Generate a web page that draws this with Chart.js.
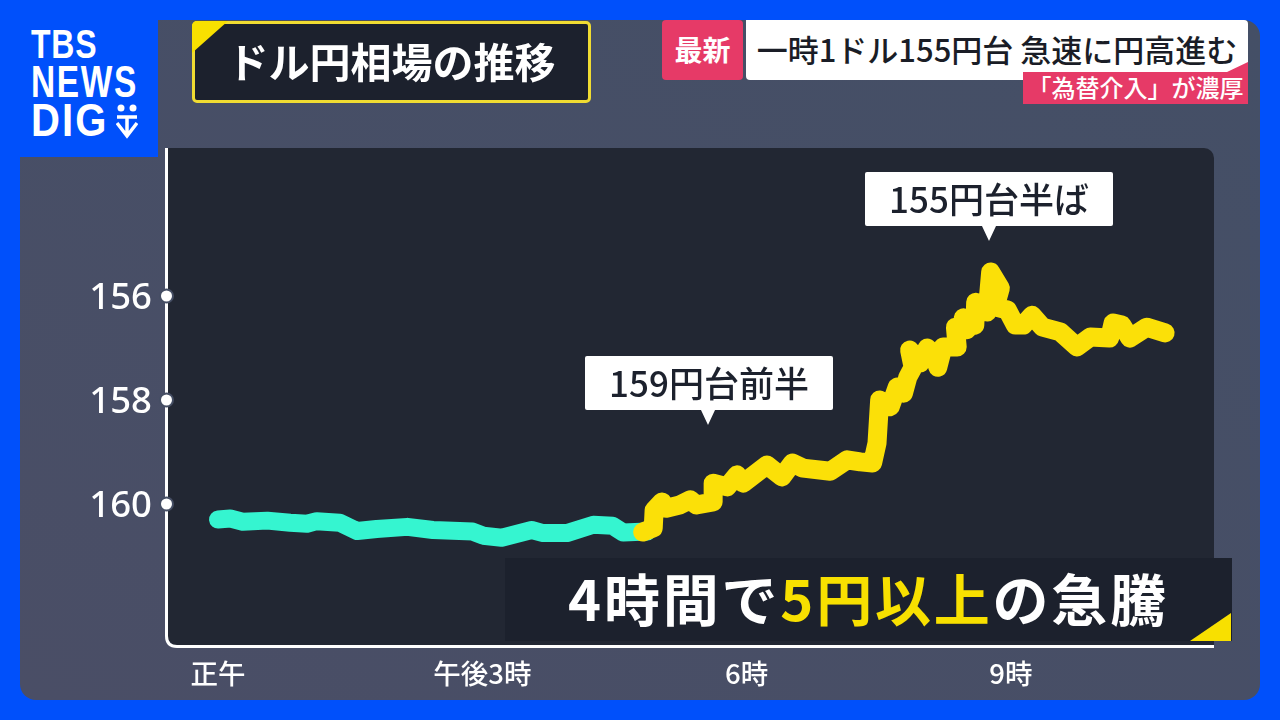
<!DOCTYPE html>
<html lang="ja">
<head>
<meta charset="utf-8">
<title>ドル円相場の推移</title>
<script src="https://cdn.jsdelivr.net/npm/chart.js@4"></script>
<style>
  html, body { margin: 0; padding: 0; width: 1280px; height: 720px; overflow: hidden; background: #0050fb; }
  body { position: relative; font-family: "Noto Sans CJK JP", "Noto Sans", sans-serif; }
  #panel { position: absolute; left: 20px; top: 20px; width: 1240px; height: 680px; border-radius: 16px; background: linear-gradient(to top right, #4a4e66, #444f66); }
  #wrap { position: absolute; left: 0; top: 0; width: 1280px; height: 720px; }
  .abs { position: absolute; white-space: nowrap; }
  #logoBox { left: 0; top: 0; width: 158px; height: 157px; background: #0050fb; }
  .logo { font-family: "Liberation Sans", sans-serif; font-weight: 700; color: #fff; line-height: 1; transform-origin: left top; }
  #titleBox { left: 192px; top: 21px; width: 393px; height: 76px; border: 3px solid #f0dc32; border-radius: 5px; background: #1c212d; }
  #titleCorner { left: 192px; top: 21px; width: 36px; height: 32px; background: #f8e000; clip-path: polygon(0 0, 100% 0, 0 100%); border-top-left-radius: 5px; }
  #titleText { left: 192px; top: 21px; width: 399px; height: 82px; line-height: 78px; text-align: center; color: #fff; font-size: 41px; font-weight: 700; }
  #newBadge { left: 662px; top: 20px; width: 81px; height: 60px; line-height: 58px; text-align: center; background: #e63a67; border-radius: 4px; color: #fff; font-size: 28px; font-weight: 700; }
  #headline { left: 746px; top: 20px; width: 502px; height: 60px; line-height: 58px; text-align: center; background: #fff; border-radius: 0 4px 4px 4px; color: #1a1d26; font-size: 31px; font-weight: 500; }
  #subhead { left: 1023px; top: 62px; width: 225px; height: 42px; background: #e63a67; clip-path: polygon(0 10px, 204px 10px, 100% 0, 100% 100%, 0 100%); color: #fff; font-size: 24px; font-weight: 500; line-height: 50px; text-align: center; }
  .callout { background: #fff; width: 248px; height: 54px; line-height: 52px; text-align: center; color: #1c212d; font-size: 35px; font-weight: 500; border-radius: 2px; }
  .tail { width: 0; height: 0; border-left: 7px solid transparent; border-right: 7px solid transparent; border-top: 15px solid #fff; }
  #captionBox { left: 505px; top: 558px; width: 727px; height: 83px; background: #1c212d; }
  #captionCorner { left: 1190px; top: 613px; width: 41px; height: 28px; background: #f8e000; clip-path: polygon(100% 0, 100% 100%, 0 100%); }
  #captionText { left: 505px; top: 558px; width: 727px; height: 84px; line-height: 78px; text-align: center; color: #fff; font-size: 56px; letter-spacing: 2.8px; font-weight: 700; }
  #captionText b { color: #f8e000; font-weight: 700; }
</style>
</head>
<body>
<div id="panel"></div>
<div id="wrap"><canvas id="rateChart" width="1280" height="720"></canvas></div>

<div class="abs" id="logoBox"></div>
<div class="abs logo" style="left:31px;top:24px;font-size:40px;letter-spacing:1px;transform:scaleX(.8)">TBS</div>
<div class="abs logo" style="left:31px;top:60px;font-size:44px;letter-spacing:2.2px;transform:scaleX(.76)">NEWS</div>
<div class="abs logo" style="left:31px;top:97px;font-size:46px;letter-spacing:2.5px;transform:scaleX(.87)">DIG</div>
<svg class="abs" style="left:116px;top:103px" width="22" height="36" viewBox="0 0 22 36">
  <circle cx="5" cy="5" r="3.5" fill="#fff"/><circle cx="17" cy="5" r="3.5" fill="#fff"/>
  <path d="M1 14h20M1 20l10 13 10-13M11 14v18" stroke="#fff" stroke-width="3.5" fill="none"/>
</svg>

<div class="abs" id="titleBox"></div>
<div class="abs" id="titleCorner"></div>
<div class="abs" id="titleText">ドル円相場の推移</div>

<div class="abs" id="newBadge">最新</div>
<div class="abs" id="headline">一時1ドル155円台 急速に円高進む</div>
<div class="abs" id="subhead">「為替介入」が濃厚</div>

<div class="abs callout" style="left:585px;top:356px">159円台前半</div>
<div class="abs tail" style="left:701px;top:410px"></div>
<div class="abs callout" style="left:865px;top:172px">155円台半ば</div>
<div class="abs tail" style="left:982px;top:226px"></div>

<div class="abs" id="captionBox"></div>
<div class="abs" id="captionCorner"></div>
<div class="abs" id="captionText">4時間で<b>5円以上</b>の急騰</div>

<script>
// 時刻は正午からの経過時間
const tealHours = [0, 0.14, 0.28, 0.56, 0.82, 1.01, 1.12, 1.38, 1.58, 1.80, 2.15, 2.44, 2.89, 3.01, 3.22, 3.56, 3.69, 3.96, 4.26, 4.48, 4.60, 4.87];
const tealRates = [160.30, 160.28, 160.34, 160.32, 160.36, 160.38, 160.33, 160.36, 160.52, 160.48, 160.44, 160.50, 160.53, 160.61, 160.65, 160.50, 160.56, 160.56, 160.40, 160.42, 160.55, 160.53];

const yellowHours = [4.82, 4.94, 4.95, 5.04, 5.09, 5.24, 5.36, 5.43, 5.62, 5.62, 5.78, 5.89, 5.96, 6.23, 6.40, 6.52, 6.64, 6.95, 7.14, 7.29, 7.43, 7.48, 7.51, 7.63, 7.71, 7.78, 7.83, 7.89, 7.85, 7.97, 8.05, 8.14, 8.17, 8.23, 8.39, 8.37, 8.50, 8.46, 8.59, 8.60, 8.73, 8.77, 8.88, 8.82, 8.96, 9.05, 9.14, 9.24, 9.36, 9.56, 9.75, 9.90, 10.12, 10.16, 10.26, 10.35, 10.54, 10.75];
const yellowRates = [160.54, 160.46, 160.12, 159.96, 160.08, 160.02, 159.92, 160.02, 159.96, 159.60, 159.67, 159.44, 159.60, 159.25, 159.48, 159.21, 159.31, 159.37, 159.15, 159.19, 159.21, 158.83, 158.00, 158.13, 157.75, 157.87, 157.56, 157.37, 157.04, 157.29, 157.00, 157.17, 157.37, 156.98, 156.98, 156.60, 156.65, 156.42, 156.56, 156.12, 156.31, 155.54, 155.85, 156.21, 156.27, 156.56, 156.56, 156.37, 156.60, 156.69, 156.98, 156.79, 156.81, 156.52, 156.56, 156.81, 156.60, 156.71];

const rateTicks = [156, 158, 160];
const hourTicks = [0, 3, 6, 9];
const hourLabels = ["正午", "午後3時", "6時", "9時"];

function toPoints(hours, rates) {
  return hours.map(function (h, i) {
    return { x: h, y: rates[i] };
  });
}

// 背景とL字の軸線
const plotFrame = {
  id: "plotFrame",
  beforeDatasetsDraw: function (chart) {
    const a = chart.chartArea;
    const ctx = chart.ctx;
    ctx.save();
    ctx.fillStyle = "#222733";
    ctx.beginPath();
    ctx.roundRect(a.left, a.top, a.right - a.left, a.bottom - a.top, [0, 10, 0, 12]);
    ctx.fill();
    ctx.strokeStyle = "#ffffff";
    ctx.lineWidth = 3;
    ctx.beginPath();
    ctx.moveTo(a.left - 0.5, a.top);
    ctx.lineTo(a.left - 0.5, a.bottom - 10);
    ctx.quadraticCurveTo(a.left - 0.5, a.bottom + 0.5, a.left + 10, a.bottom + 0.5);
    ctx.lineTo(a.right, a.bottom + 0.5);
    ctx.stroke();
    ctx.fillStyle = "#ffffff";
    ctx.strokeStyle = "#454e64";
    ctx.lineWidth = 2;
    rateTicks.forEach(function (v) {
      ctx.beginPath();
      ctx.arc(a.left - 0.5, chart.scales.y.getPixelForValue(v), 6.5, 0, Math.PI * 2);
      ctx.fill();
      ctx.stroke();
    });
    ctx.restore();
  },
};

new Chart(document.getElementById("rateChart"), {
  type: "line",
  data: {
    datasets: [
      {
        label: "急騰後",
        data: toPoints(yellowHours, yellowRates),
        borderColor: "#fbe008",
        borderWidth: 19,
        borderCapStyle: "round",
        borderJoinStyle: "round",
        pointRadius: 0,
        tension: 0,
      },
      {
        label: "急騰前",
        data: toPoints(tealHours, tealRates),
        borderColor: "#35f5d0",
        borderWidth: 18,
        borderCapStyle: "round",
        borderJoinStyle: "round",
        pointRadius: 0,
        tension: 0,
      },
    ],
  },
  options: {
    responsive: false,
    animation: false,
    layout: { padding: { top: 148, right: 66, left: 0, bottom: 0 } },
    plugins: { legend: { display: false }, tooltip: { enabled: false } },
    scales: {
      x: {
        type: "linear",
        min: -0.579,
        max: 11.305,
        grid: { display: false },
        border: { display: false },
        afterBuildTicks: function (scale) {
          scale.ticks = hourTicks.map(function (v) {
            return { value: v };
          });
        },
        afterFit: function (scale) {
          scale.height = 74;
        },
        ticks: {
          color: "#ffffff",
          padding: 3,
          maxRotation: 0,
          autoSkip: false,
          font: { family: "'Noto Sans CJK JP'", size: 27.5, weight: "500" },
          callback: function (value) {
            return hourLabels[hourTicks.indexOf(value)];
          },
        },
      },
      y: {
        type: "linear",
        reverse: true,
        min: 153.154,
        max: 162.731,
        grid: { display: false },
        border: { display: false },
        afterBuildTicks: function (scale) {
          scale.ticks = rateTicks.map(function (v) {
            return { value: v };
          });
        },
        afterFit: function (scale) {
          scale.width = 167;
        },
        ticks: {
          color: "#ffffff",
          padding: 7,
          autoSkip: false,
          // 空行で文字を3px下げる
          font: { family: "'Noto Sans'", size: 36.5, weight: "500", lineHeight: "6px" },
          callback: function (value) {
            return ["", String(value)];
          },
        },
      },
    },
  },
  plugins: [plotFrame],
});
</script>
</body>
</html>
